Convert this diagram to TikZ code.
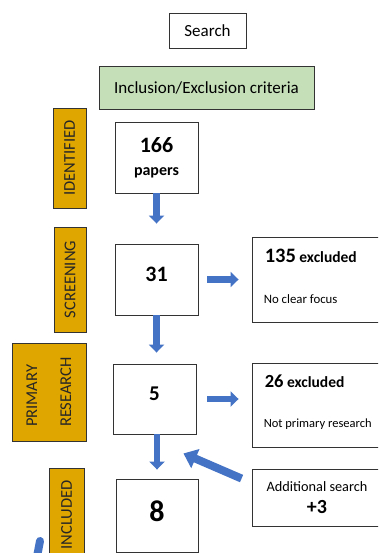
\documentclass[tikz,border=0pt]{standalone}
\usepackage{fontspec}
\setmainfont{Carlito}
\usetikzlibrary{calc,arrows.meta}
\definecolor{critgreen}{HTML}{C5DFB9}
\definecolor{stagegold}{HTML}{E0A600}
\definecolor{arrowblue}{HTML}{4472C4}
\definecolor{boxline}{HTML}{333333}
\tikzset{
    box/.style={draw=boxline, line width=0.9pt, fill=white, inner sep=0pt},
    stage/.style={draw=boxline, line width=0.9pt, fill=stagegold, inner sep=0pt, rotate=90,
        align=left, text=black!85, font=\fontsize{16.5}{34}\selectfont},
    bigarrow/.style={draw=arrowblue, line width=6.5pt, -{Triangle[length=8pt,width=15pt]}},
    excltext/.style={anchor=base west, inner sep=0pt}
}

\begin{document}
\begin{tikzpicture}[x=1pt,y=-1pt]
        \useasboundingbox (0,0) rectangle (378,553);
        \clip (0,0) rectangle (378,553);
        \fill[white] (0,0) rectangle (378,553);
        \node[box, minimum width=77pt, minimum height=35pt, font=\fontsize{17}{20}\selectfont] (search) at (207.5,30.5) {Search};
        \node[box, fill=critgreen, minimum width=215pt, minimum height=43pt, font=\fontsize{17}{20}\selectfont] (criteria) at (206.5,87.5) {Inclusion/Exclusion criteria};
        \node[stage, minimum width=100pt, minimum height=33pt] (identified) at (69.5,158) {IDENTIFIED};
        \node[stage, minimum width=105pt, minimum height=32pt] (screening) at (70,279.5) {SCREENING};
        \node[stage, minimum width=98pt, minimum height=74pt] (primary) at (49,392) {PRIMARY\\RESEARCH};
        \node[stage, minimum width=94pt, minimum height=35pt] (included) at (66.5,515) {INCLUDED};
        \node[box, minimum width=83pt, minimum height=71pt, align=center, font=\fontsize{16}{23}\selectfont\bfseries] (papers) at (156.5,157.5)
            {{\fontsize{22}{23}\selectfont 166}\\papers};
        \node[box, minimum width=83pt, minimum height=71pt, text height=15pt, text depth=12pt, font=\fontsize{22}{26}\selectfont\bfseries] (n31) at (156.5,279.5) {31};
        \node[box, minimum width=83pt, minimum height=70pt, text height=15pt, text depth=12pt, font=\fontsize{21}{26}\selectfont\bfseries] (n5) at (154.5,399) {5};
        \node[box, minimum width=82pt, minimum height=73pt, text height=20pt, text depth=8pt, font=\fontsize{30}{34}\selectfont\bfseries] (n8) at (157,515.5) {8};
        \node[box, minimum width=130pt, minimum height=85pt] (excl1) at (317,279.5) {};
        \node[box, minimum width=130pt, minimum height=84pt] (excl2) at (317,405) {};
        \node[box, minimum width=130pt, minimum height=57pt, align=center, font=\fontsize{14.3}{22}\selectfont] (addsearch) at (317,497.5)
            {Additional search\\{\bfseries\fontsize{20}{22}\selectfont +3}};
        \node[excltext, font=\fontsize{20.5}{24}\selectfont\bfseries] (excl1num) at ([shift={(13,26)}]excl1.north west)
            {135{\fontsize{15.5}{18}\selectfont\ excluded}};
        \node[excltext, font=\fontsize{12.8}{15}\selectfont] (excl1why) at ([shift={(12,67)}]excl1.north west) {No clear focus};
        \node[excltext, font=\fontsize{18.5}{22}\selectfont\bfseries] (excl2num) at ([shift={(13,25)}]excl2.north west)
            {26{\fontsize{15.5}{18}\selectfont\ excluded}};
        \node[excltext, font=\fontsize{12.5}{15}\selectfont] (excl2why) at ([shift={(12,65)}]excl2.north west) {Not primary research};
        \draw[bigarrow, shorten >=20pt] (papers.south) -- (papers.south |- n31.north);
        \draw[bigarrow, shorten >=11pt] (n31.south) -- (n31.south |- n5.north);
        \draw[bigarrow, shorten >=9pt] (n5.south -| n8.north) -- (n8.north);
        \draw[bigarrow, shorten <=9pt, shorten >=13pt] (n31.east) -- (n31.east -| excl1.west);
        \draw[bigarrow, shorten <=11pt, shorten >=13pt] (n5.east) -- (n5.east -| excl2.west);
        \draw[bigarrow, line width=8pt, -{Triangle[length=13pt,width=20pt]}]
            ([shift={(-10,10)}]addsearch.north west) -- ([shift={(-13,19)}]n5.south east);
        \coordinate (stubtop) at (40,541);
        \coordinate (stubend) at (36,562);
        \draw[draw=arrowblue, line width=8pt, line cap=round] (stubtop) -- (stubend);
    \end{tikzpicture}
\end{document}
